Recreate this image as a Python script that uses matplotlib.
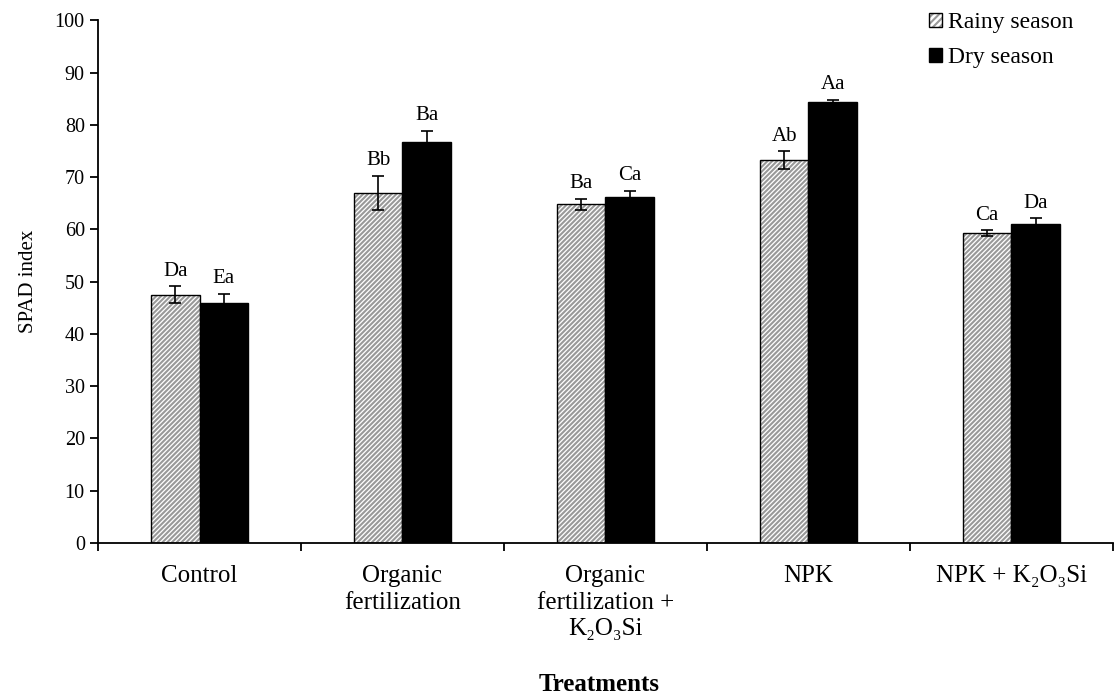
import numpy as np
import matplotlib
matplotlib.use("Agg")
import matplotlib.pyplot as plt
from matplotlib.patches import Patch

plt.rcParams['font.family'] = ['Liberation Serif', 'DejaVu Serif']
plt.rcParams['hatch.linewidth'] = 1.5

#data
treatments = ["Control", "Organic\nfertilization", "Organic\nfertilization +\nK\u2082O\u2083Si",
              "NPK", "NPK + K\u2082O\u2083Si"]
rainy = [47.5, 67.0, 64.8, 73.3, 59.3]
rainy_err = [1.6, 3.3, 1.1, 1.7, 0.5]
dry = [46.0, 76.7, 66.2, 84.3, 61.1]
dry_err = [1.7, 2.2, 1.2, 0.5, 1.0]
rainy_letters = ["Da", "Bb", "Ba", "Ab", "Ca"]
dry_letters = ["Ea", "Ba", "Ca", "Aa", "Da"]

fig = plt.figure(figsize=(11.14, 6.98), dpi=100)
ax = fig.add_axes([0.088, 0.222, 0.911, 0.749])

x = np.arange(len(treatments)) + 0.5
w = 0.24
hatch_grey = "#999999"

#rainy bars: grey hatch then black outline on top
ax.bar(x - w/2, rainy, w, color="white", edgecolor=hatch_grey, hatch="///////", linewidth=0)
ax.bar(x - w/2, rainy, w, fill=False, edgecolor="black", linewidth=1)
ax.errorbar(x - w/2, rainy, yerr=rainy_err, fmt="none", ecolor="black", capsize=4, elinewidth=1.2, capthick=1.2)

ax.bar(x + w/2, dry, w, color="black", edgecolor="black", linewidth=1)
ax.errorbar(x + w/2, dry, yerr=dry_err, fmt="none", ecolor="black", capsize=4, elinewidth=1.2, capthick=1.2)

for i in range(len(treatments)):
    ax.text(x[i] - w/2, rainy[i] + rainy_err[i] + 1.0, rainy_letters[i], ha="center", va="bottom", fontsize=15)
    ax.text(x[i] + w/2, dry[i] + dry_err[i] + 1.0, dry_letters[i], ha="center", va="bottom", fontsize=15)

ax.set_xlim(0, 5)
ax.set_ylim(0, 100)
ax.set_yticks(range(0, 101, 10))
ax.set_xticks(range(0, 6))
ax.set_xticklabels([])
ax.set_xticks(x, minor=True)
ax.set_xticklabels(treatments, minor=True, fontsize=18, linespacing=1.25)
ax.tick_params(axis="x", which="minor", length=0, pad=16)
ax.tick_params(axis="x", which="major", length=6, width=1.3, direction="out")
ax.tick_params(axis="y", labelsize=14.5, length=6, width=1.3, direction="out")

ax.spines["top"].set_visible(False)
ax.spines["right"].set_visible(False)
ax.spines["left"].set_linewidth(1.3)
ax.spines["bottom"].set_linewidth(1.3)

ax.set_ylabel("SPAD index", fontsize=15, labelpad=12)
fig.text(599/1114, 7/698, "Treatments", ha="center", va="baseline", fontsize=18, fontweight="bold")

rainy_handle = (Patch(facecolor="white", edgecolor=hatch_grey, hatch="/////", linewidth=0),
                Patch(fill=False, edgecolor="black", linewidth=1))
dry_handle = Patch(facecolor="black", edgecolor="black")
fig.legend([rainy_handle, dry_handle], ["Rainy season", "Dry season"],
           loc="upper left", bbox_to_anchor=(929/1114, 1 - 12/698), frameon=False,
           fontsize=17, handlelength=0.55, handleheight=0.55, handletextpad=0.25,
           labelspacing=0.6, borderpad=0, borderaxespad=0)

plt.savefig("out.png", dpi=100)
